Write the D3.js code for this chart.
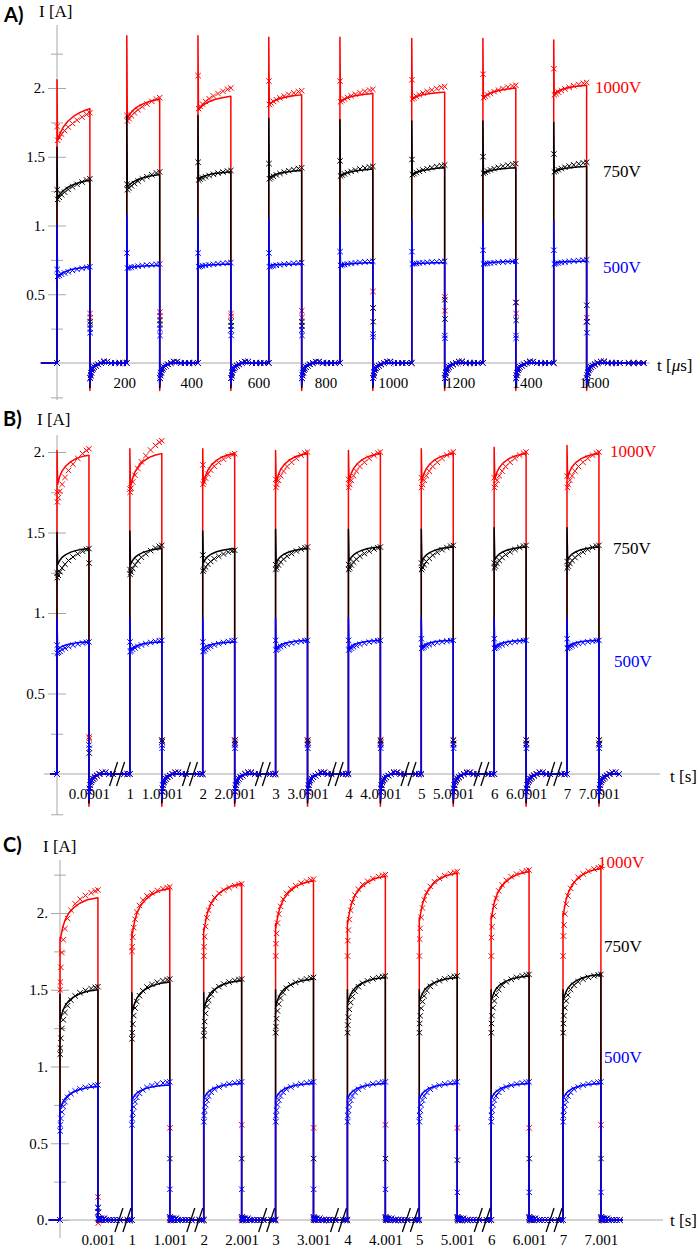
<!DOCTYPE html>
<html><head><meta charset="utf-8">
<script src="https://cdn.jsdelivr.net/npm/d3@7"></script>
<style>body{margin:0;background:#fff}svg{display:block}</style>
</head><body>
<svg id="c" width="700" height="1247"></svg>
<script>
// ===================== DATA =====================
const SERIES = ["1000V", "750V", "500V"];
const SERIES_COLORS = ["#ff0000", "#000000", "#0000ff"];

// ---- Panel A (time in µs, continuous axis) ----
const A_RISE = [0, 208, 420, 631, 843, 1057, 1269, 1480];
const A_ON = 98;
const A_END = 1755;
const A_XTICKS = [200, 400, 600, 800, 1000, 1200, 1400, 1600];
const A_YMAJOR = [0.5, 1, 1.5, 2];
const A_YMINOR = [-0.25, 0.25, 0.75, 1.25, 1.75, 2.25];
// columns: spike, lineStart, lineEnd, markerSpike, markerStart, markerEnd, fallMarker1, fallMarker2
const A_1000V = [
  [2.06, 1.62, 1.85, 1.72, 1.62, 1.82, 0.36, 0.33],
  [2.38, 1.78, 1.92, 1.80, 1.76, 1.93, 0.37, 0.34],
  [2.38, 1.84, 1.94, 2.09, 1.85, 2.00, 0.36, 0.34],
  [2.37, 1.88, 1.95, 2.05, 1.88, 1.98, 0.38, 0.33],
  [2.37, 1.90, 1.96, 2.05, 1.90, 1.99, 0.52, 0.40],
  [2.36, 1.92, 1.97, 2.06, 1.92, 2.01, 0.48, 0.38],
  [2.36, 1.93, 2.00, 2.10, 1.93, 2.02, 0.44, 0.36],
  [2.35, 1.96, 2.02, 2.14, 1.95, 2.04, 0.33, 0.30]
];
const A_750V = [
  [1.57, 1.20, 1.33, 1.26, 1.19, 1.34, 0.30, 0.28],
  [1.80, 1.28, 1.37, 1.30, 1.26, 1.39, 0.31, 0.28],
  [1.80, 1.34, 1.39, 1.46, 1.33, 1.40, 0.30, 0.27],
  [1.78, 1.35, 1.40, 1.45, 1.34, 1.42, 0.30, 0.27],
  [1.77, 1.36, 1.41, 1.47, 1.36, 1.43, 0.40, 0.30],
  [1.76, 1.37, 1.42, 1.48, 1.37, 1.44, 0.46, 0.32],
  [1.76, 1.38, 1.42, 1.50, 1.38, 1.45, 0.44, 0.31],
  [1.75, 1.39, 1.43, 1.52, 1.39, 1.46, 0.42, 0.30]
];
const A_500V = [
  [1.00, 0.63, 0.70, 0.68, 0.63, 0.70, 0.25, 0.22],
  [1.08, 0.69, 0.71, 0.80, 0.69, 0.72, 0.25, 0.20],
  [1.05, 0.70, 0.72, 0.80, 0.70, 0.73, 0.24, 0.20],
  [1.05, 0.71, 0.72, 0.80, 0.70, 0.73, 0.24, 0.20],
  [1.04, 0.71, 0.73, 0.81, 0.71, 0.74, 0.21, 0.19],
  [1.04, 0.72, 0.73, 0.81, 0.72, 0.74, 0.20, 0.18],
  [1.03, 0.72, 0.74, 0.82, 0.72, 0.74, 0.20, 0.18],
  [1.03, 0.73, 0.74, 0.82, 0.72, 0.75, 0.30, 0.22]
];
const A_UNDERSHOOT = [-0.2, -0.18, -0.16];

// ---- Panel B (broken time axis; display unit = µs inside each 1 s period) ----
const B_SECONDS = [0, 1, 2, 3, 4, 5, 6, 7];
const B_ON = 100;
const B_XTICKS = [0.0001, 1, 1.0001, 2, 2.0001, 3, 3.0001, 4, 4.0001, 5, 5.0001, 6, 6.0001, 7, 7.0001];
const B_XTICK_LABELS = ["0.0001", "1", "1.0001", "2", "2.0001", "3", "3.0001", "4", "4.0001", "5", "5.0001", "6", "6.0001", "7", "7.0001"];
const B_YMAJOR = [0.5, 1, 1.5, 2];
const B_YMINOR = [-0.25, 0.25, 0.75, 1.25, 1.75];
const B_1000V = [
  [2.01, 1.80, 1.98, 1.75, 1.69, 2.02, 0.23, 0.22],
  [2.02, 1.78, 1.99, 1.77, 1.75, 2.07, 0.21, 0.20],
  [2.02, 1.80, 1.99, 1.92, 1.80, 1.99, 0.21, 0.20],
  [2.01, 1.81, 1.99, 1.83, 1.78, 2.00, 0.21, 0.20],
  [2.01, 1.82, 1.99, 1.83, 1.78, 2.00, 0.21, 0.20],
  [2.02, 1.82, 1.99, 1.84, 1.78, 2.00, 0.21, 0.19],
  [2.03, 1.83, 1.99, 1.84, 1.78, 2.00, 0.21, 0.19],
  [2.04, 1.84, 1.99, 1.85, 1.78, 2.00, 0.21, 0.19]
];
const B_750V = [
  [1.50, 1.30, 1.40, 1.25, 1.22, 1.40, 1.31, 0.13],
  [1.51, 1.30, 1.40, 1.27, 1.24, 1.42, 0.21, 0.20],
  [1.51, 1.31, 1.40, 1.36, 1.26, 1.39, 0.21, 0.19],
  [1.52, 1.31, 1.40, 1.30, 1.27, 1.41, 0.21, 0.19],
  [1.52, 1.32, 1.41, 1.30, 1.27, 1.41, 0.21, 0.19],
  [1.52, 1.32, 1.41, 1.31, 1.27, 1.42, 0.21, 0.19],
  [1.53, 1.33, 1.41, 1.31, 1.28, 1.42, 0.21, 0.19],
  [1.53, 1.33, 1.41, 1.32, 1.28, 1.42, 0.21, 0.19]
];
const B_500V = [
  [0.97, 0.77, 0.82, 0.80, 0.75, 0.82, 0.18, 0.16],
  [0.97, 0.77, 0.82, 0.82, 0.76, 0.83, 0.18, 0.16],
  [0.97, 0.78, 0.82, 0.82, 0.76, 0.83, 0.18, 0.16],
  [0.97, 0.78, 0.83, 0.83, 0.77, 0.83, 0.18, 0.16],
  [0.97, 0.78, 0.83, 0.83, 0.77, 0.83, 0.18, 0.16],
  [0.97, 0.79, 0.83, 0.84, 0.78, 0.83, 0.18, 0.16],
  [0.97, 0.79, 0.83, 0.84, 0.78, 0.83, 0.18, 0.16],
  [0.97, 0.79, 0.83, 0.84, 0.78, 0.83, 0.18, 0.16]
];
const B_UNDERSHOOT = [-0.2, -0.18, -0.16];

// ---- Panel C (broken time axis; display unit = ms inside each 1 s period) ----
const C_SECONDS = [0, 1, 2, 3, 4, 5, 6, 7];
const C_ON = 1;
const C_XTICKS = [0.001, 1, 1.001, 2, 2.001, 3, 3.001, 4, 4.001, 5, 5.001, 6, 6.001, 7, 7.001];
const C_XTICK_LABELS = ["0.001", "1", "1.001", "2", "2.001", "3", "3.001", "4", "4.001", "5", "5.001", "6", "6.001", "7", "7.001"];
const C_YMAJOR = [0, 0.5, 1, 1.5, 2];
const C_YMINOR = [0.25, 0.75, 1.25, 1.75, 2.25];
const C_1000V = [
  [1.84, 1.82, 2.10, 1.50, 1.55, 2.15, 0.15, -0.02],
  [1.88, 1.85, 2.16, 1.75, 1.78, 2.17, 0.60, 0.00],
  [1.90, 1.88, 2.19, 1.72, 1.78, 2.19, 0.62, 0.00],
  [1.93, 1.90, 2.21, 1.72, 1.80, 2.22, 0.60, 0.00],
  [1.95, 1.93, 2.24, 1.72, 1.82, 2.25, 0.62, 0.00],
  [1.97, 1.95, 2.26, 1.72, 1.83, 2.27, 0.60, 0.00],
  [1.98, 1.96, 2.27, 1.72, 1.84, 2.28, 0.60, 0.00],
  [2.00, 1.98, 2.29, 1.72, 1.85, 2.30, 0.62, 0.00]
];
const C_750V = [
  [1.47, 1.30, 1.50, 1.08, 1.12, 1.52, 0.08, 0.05],
  [1.48, 1.35, 1.55, 1.18, 1.22, 1.57, 0.40, 0.02],
  [1.48, 1.37, 1.56, 1.20, 1.24, 1.57, 0.40, 0.02],
  [1.50, 1.39, 1.57, 1.22, 1.26, 1.58, 0.40, 0.02],
  [1.50, 1.41, 1.58, 1.22, 1.27, 1.59, 0.40, 0.02],
  [1.50, 1.42, 1.58, 1.22, 1.28, 1.59, 0.39, 0.02],
  [1.50, 1.43, 1.59, 1.22, 1.28, 1.60, 0.40, 0.02],
  [1.50, 1.43, 1.60, 1.22, 1.28, 1.60, 0.40, 0.02]
];
const C_500V = [
  [0.74, 0.72, 0.87, 0.58, 0.62, 0.88, 0.08, 0.05],
  [0.80, 0.78, 0.88, 0.62, 0.66, 0.90, 0.20, 0.02],
  [0.81, 0.79, 0.89, 0.64, 0.68, 0.90, 0.20, 0.02],
  [0.81, 0.79, 0.89, 0.64, 0.68, 0.90, 0.20, 0.02],
  [0.81, 0.79, 0.89, 0.64, 0.68, 0.90, 0.20, 0.02],
  [0.81, 0.79, 0.89, 0.64, 0.68, 0.90, 0.18, 0.02],
  [0.81, 0.79, 0.89, 0.64, 0.68, 0.90, 0.18, 0.02],
  [0.81, 0.79, 0.89, 0.64, 0.68, 0.90, 0.18, 0.02]
];
const C_UNDERSHOOT = [0, 0, 0];

// ---- pulse shapes (fraction of pulse time, fraction of rise) ----
const A_LINE_T = [0, 0.08, 0.18, 0.32, 0.5, 0.7, 0.86, 1];
const A_LINE_V = [0, 0.22, 0.42, 0.6, 0.76, 0.88, 0.95, 1];
const A_MARK_T = [0.02, 0.07, 0.14, 0.23, 0.34, 0.47, 0.61, 0.76, 0.9, 1.0];
const A_MARK_V = [0, 0.1, 0.22, 0.35, 0.48, 0.61, 0.73, 0.84, 0.94, 1.0];
const B_LINE_T = [0, 0.06, 0.14, 0.26, 0.42, 0.6, 0.8, 1];
const B_LINE_V = [0, 0.25, 0.45, 0.63, 0.78, 0.89, 0.96, 1];
const B_MARK_T = [0.01, 0.04, 0.09, 0.16, 0.25, 0.36, 0.5, 0.65, 0.8, 0.92, 1.0];
const B_MARK_V = [0, 0.08, 0.2, 0.33, 0.46, 0.59, 0.71, 0.82, 0.91, 0.97, 1];
const C_LINE_T = [0, 0.03, 0.07, 0.13, 0.22, 0.35, 0.52, 0.72, 1];
const C_LINE_V = [0, 0.15, 0.32, 0.48, 0.63, 0.76, 0.87, 0.95, 1];
const C_MARK_T = [0.01, 0.025, 0.05, 0.085, 0.13, 0.2, 0.29, 0.4, 0.53, 0.67, 0.82, 0.93, 1.0];
const C_MARK_V = [0, 0.16, 0.32, 0.46, 0.58, 0.69, 0.78, 0.85, 0.9, 0.94, 0.97, 0.99, 1.0];

// ---- after the pulse falls (time after fall, value) ----
const AB_TAIL_LINE_T = [0, 1.5, 4, 8, 14, 22, 35];
const AB_TAIL_LINE_F = [1, 0.6, 0.35, 0.2, 0.1, 0.04, 0];
const A_TAIL_MARK_T = [1, 2.5, 4, 6, 9, 13, 18, 25, 33, 42, 52, 63, 75, 88, 99, 125, 140, 155, 170];
const A_TAIL_MARK_V = [-0.11, -0.09, -0.07, -0.05, -0.04, -0.03, -0.02, -0.01, 0, 0.01, 0.01, 0, 0, 0, 0, 0, 0, 0, 0];
const B_TAIL_MARK_T = [1, 2.5, 4, 6, 9, 13, 18, 25, 33, 42, 52, 63, 75, 110, 120];
const B_TAIL_MARK_V = [-0.11, -0.09, -0.07, -0.05, -0.04, -0.03, -0.02, -0.01, 0, 0.01, 0.01, 0, 0, 0, 0];
const C_TAIL_LINE_T = [0];
const C_TAIL_LINE_F = [0];
const C_TAIL_MARK_T = [0.01, 0.025, 0.04, 0.06, 0.085, 0.12, 0.16, 0.21, 0.27, 0.34, 0.42, 0.5, 0.58, 0.78, 0.84];
const C_TAIL_MARK_V = [0.01, 0, 0.01, 0, 0.01, 0, 0.01, 0, 0, 0, 0, 0, 0, 0, 0];

// ===================== DRAWING =====================
const SERIF = "'Liberation Serif','Times New Roman',serif";
const AXIS = "#a8a8a8";
const svg = d3.select("#c");

function buildSeries(P, rows, under) {
  const line = [[P.pre, 0]], marks = [];
  rows.forEach((r, i) => {
    const [spike, ls, le, ms, m0, m1, fa, fb] = r;
    const t0 = P.rise[i], tf = t0 + P.on;
    const tNext = i < P.rise.length - 1 ? P.rise[i + 1] : P.end;
    line.push([t0, 0], [t0, spike]);
    P.lineT.forEach((f, k) => line.push([t0 + P.spikeW + f * (P.on - P.spikeW), ls + (le - ls) * P.lineV[k]]));
    P.tailLineT.forEach((d, k) => line.push([tf + d, under * P.tailLineF[k]]));
    line.push([tNext, 0]);
    marks.push([t0, 0], [t0 + P.eps, ms]);
    P.markT.forEach((f, k) => marks.push([t0 + f * P.on, m0 + (m1 - m0) * P.markV[k]]));
    marks.push([tf + P.eps, fa], [tf + 2 * P.eps, fb]);
    P.tailMarkT.forEach((d, k) => { if (tf + d < tNext - P.eps) marks.push([tf + d, P.tailMarkV[k]]); });
  });
  return { line, marks };
}

function drawPanel(P) {
  const g = svg.append("g");
  const x = P.x, y = P.y, x0 = x(0);
  g.append("line").attr("x1", x0).attr("x2", x0).attr("y1", P.yTop).attr("y2", P.yBot)
    .attr("stroke", AXIS).attr("stroke-width", 1);
  g.append("line").attr("x1", P.xLeft).attr("x2", P.xRight).attr("y1", y(0)).attr("y2", y(0))
    .attr("stroke", AXIS).attr("stroke-width", 1);
  const ya = g.append("g").attr("transform", `translate(${x0},0)`)
    .call(d3.axisLeft(y).tickValues(P.yMajor).tickSize(0)
      .tickFormat(d => Number.isInteger(d) ? d + "." : String(d)));
  ya.select(".domain").remove();
  ya.attr("font-family", SERIF).attr("font-size", 15);
  ya.selectAll(".tick line").attr("x1", -9).attr("x2", 9).attr("stroke", AXIS);
  ya.selectAll(".tick text").attr("x", -12).attr("fill", "#000");
  const ym = g.append("g").attr("transform", `translate(${x0},0)`)
    .call(d3.axisLeft(y).tickValues(P.yMinor).tickSize(0).tickFormat(""));
  ym.select(".domain").remove();
  ym.selectAll(".tick line").attr("x1", -6).attr("x2", 6).attr("stroke", AXIS);
  const xa = g.append("g").attr("transform", `translate(0,${y(0)})`)
    .call(d3.axisBottom(x).tickValues(P.xTicks).tickSize(0).tickFormat((d, i) => P.xLabels[i]));
  xa.select(".domain").remove();
  xa.attr("font-family", SERIF).attr("font-size", 15);
  xa.selectAll(".tick line").attr("y1", -4).attr("y2", 4).attr("stroke", AXIS);
  xa.selectAll(".tick text").attr("y", 14.5).attr("fill", "#000");

  const lineGen = d3.line().x(d => x(d[0])).y(d => y(d[1]));
  P.series.forEach((rows, si) => {
    const col = SERIES_COLORS[si];
    const s = buildSeries(P, rows, P.under[si]);
    g.append("path").attr("d", lineGen(s.line)).attr("fill", "none").attr("stroke", col)
      .attr("stroke-width", 1.5).attr("stroke-linejoin", "round");
    g.append("g").selectAll("path").data(s.marks).join("path")
      .attr("transform", d => `translate(${x(d[0])},${y(d[1])})`)
      .attr("d", "M-2.7,-2.7L2.7,2.7M-2.7,2.7L2.7,-2.7")
      .attr("stroke", col).attr("stroke-width", 1).attr("fill", "none");
  });

  if (P.breaks) {
    P.breaks.forEach(b => {
      const cx = x(b);
      [-1, 1].forEach(k => {
        const xc = cx + k * P.breakGap;
        g.append("line").attr("x1", xc - 4).attr("y1", y(0) + 12).attr("x2", xc + 4).attr("y2", y(0) - 12)
          .attr("stroke", "#000").attr("stroke-width", 1.3);
      });
    });
  }

  g.append("text").attr("x", P.tag[0]).attr("y", P.tag[1]).text(P.tag[2])
    .attr("font-family", "Lato,'Open Sans',sans-serif").attr("font-weight", "bold").attr("font-size", 20);
  g.append("text").attr("x", P.yLab[0]).attr("y", P.yLab[1]).text("I [A]")
    .attr("font-family", SERIF).attr("font-size", 17);
  const xl = g.append("text").attr("x", P.xLab[0]).attr("y", P.xLab[1])
    .attr("font-family", SERIF).attr("font-size", 17);
  xl.append("tspan").text("t [");
  if (P.micro) xl.append("tspan").attr("font-style", "italic").text("μ");
  xl.append("tspan").text(P.unit + "]");
  SERIES.forEach((s, si) => {
    g.append("text").attr("x", P.sLab[si][0]).attr("y", P.sLab[si][1]).text(s)
      .attr("font-family", SERIF).attr("font-size", 17).attr("fill", SERIES_COLORS[si]);
  });
}

// ---- Panel A ----
drawPanel({
  x: d3.scaleLinear().domain([0, 1600]).range([57, 594]),
  y: d3.scaleLinear().domain([0, 2]).range([363, 88]),
  yTop: 25, yBot: 400, xLeft: 40, xRight: 650,
  yMajor: A_YMAJOR, yMinor: A_YMINOR,
  xTicks: A_XTICKS, xLabels: A_XTICKS.map(String),
  rise: A_RISE, on: A_ON, end: A_END, pre: -48, spikeW: 1.5, eps: 0.5,
  lineT: A_LINE_T, lineV: A_LINE_V, markT: A_MARK_T, markV: A_MARK_V,
  tailLineT: AB_TAIL_LINE_T, tailLineF: AB_TAIL_LINE_F, tailMarkT: A_TAIL_MARK_T, tailMarkV: A_TAIL_MARK_V,
  series: [A_1000V, A_750V, A_500V], under: A_UNDERSHOOT,
  tag: [4, 22, "A)"], yLab: [39, 17], xLab: [657, 371], micro: true, unit: "s",
  sLab: [[595, 93], [603, 177], [603, 273]]
});

// ---- Panel B ----
const B_PERIOD = 228; // displayed µs per 1 s period
const bDisp = s => Math.floor(s + 1e-9) * B_PERIOD + (s - Math.floor(s + 1e-9)) * 1e6;
drawPanel({
  x: d3.scaleLinear().domain([0, 7 * B_PERIOD]).range([57, 567]),
  y: d3.scaleLinear().domain([0, 2]).range([774, 452]),
  yTop: 435, yBot: 815, xLeft: 44, xRight: 660,
  yMajor: B_YMAJOR, yMinor: B_YMINOR,
  xTicks: B_XTICKS.map(bDisp), xLabels: B_XTICK_LABELS,
  rise: B_SECONDS.map(s => s * B_PERIOD), on: B_ON, end: 7 * B_PERIOD + 166, pre: -22, spikeW: 2, eps: 0.5,
  lineT: B_LINE_T, lineV: B_LINE_V, markT: B_MARK_T, markV: B_MARK_V,
  tailLineT: AB_TAIL_LINE_T, tailLineF: AB_TAIL_LINE_F, tailMarkT: B_TAIL_MARK_T, tailMarkV: B_TAIL_MARK_V,
  series: [B_1000V, B_750V, B_500V], under: B_UNDERSHOOT,
  breaks: B_SECONDS.slice(0, 7).map(s => s * B_PERIOD + 188), breakGap: 3.5,
  tag: [3, 426, "B)"], yLab: [37, 425], xLab: [670, 782], micro: false, unit: "s",
  sLab: [[610, 457], [613, 554], [614, 667]]
});

// ---- Panel C ----
const C_PERIOD = 1.895; // displayed ms per 1 s period
const cDisp = s => Math.floor(s + 1e-9) * C_PERIOD + (s - Math.floor(s + 1e-9)) * 1e3;
drawPanel({
  x: d3.scaleLinear().domain([0, 7 * C_PERIOD]).range([60, 563]),
  y: d3.scaleLinear().domain([0, 2]).range([1220, 913]),
  yTop: 860, yBot: 1238, xLeft: 48, xRight: 663,
  yMajor: C_YMAJOR, yMinor: C_YMINOR,
  xTicks: C_XTICKS.map(cDisp), xLabels: C_XTICK_LABELS,
  rise: C_SECONDS.map(s => s * C_PERIOD), on: C_ON, end: 7 * C_PERIOD + 1.58, pre: -0.3, spikeW: 0.005, eps: 0.004,
  lineT: C_LINE_T, lineV: C_LINE_V, markT: C_MARK_T, markV: C_MARK_V,
  tailLineT: C_TAIL_LINE_T, tailLineF: C_TAIL_LINE_F, tailMarkT: C_TAIL_MARK_T, tailMarkV: C_TAIL_MARK_V,
  series: [C_1000V, C_750V, C_500V], under: C_UNDERSHOOT,
  breaks: C_SECONDS.slice(0, 7).map(s => s * C_PERIOD + 1.66), breakGap: 4,
  tag: [3, 852, "C)"], yLab: [43, 852], xLab: [670, 1226], micro: false, unit: "s",
  sLab: [[598, 868], [604, 952], [604, 1063]]
});
</script>
</body></html>
